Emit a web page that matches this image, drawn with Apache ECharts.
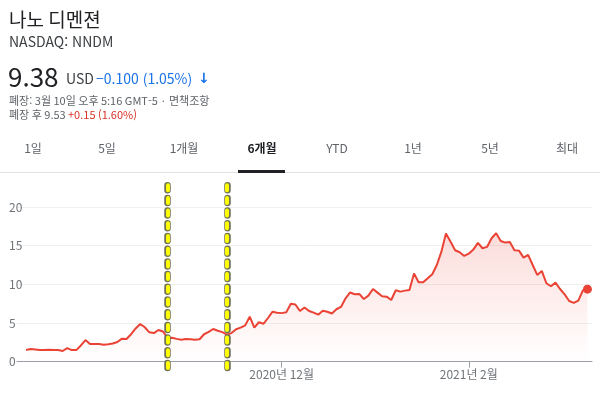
<!DOCTYPE html>
<html lang="ko">
<head>
    <meta charset="UTF-8">
    <title>나노 디멘젼</title>
    <script src="https://cdn.jsdelivr.net/npm/echarts@6/dist/echarts.min.js"></script>
    <style>
        html, body { margin: 0; padding: 0; background: #fff; }
    </style>
</head>
<body>
    <div id="main" style="width: 600px; height: 397px;"></div>
    <script>
        // 6개월 종가
        const prices = [
            1.5, 1.64, 1.58, 1.5, 1.52, 1.55, 1.52, 1.5, 1.38, 1.75,
            1.5, 1.5, 2.1, 2.8, 2.3, 2.3, 2.3, 2.2, 2.25, 2.35,
            2.55, 2.98, 2.94, 3.55, 4.3, 4.88, 4.45, 3.8, 3.7, 4.1,
            3.9, 3.05, 3.1, 2.95, 2.85, 2.92, 2.9, 2.85, 2.9, 3.55,
            3.85, 4.23, 4.0, 3.82, 3.5, 3.7, 4.2, 4.4, 4.7, 5.82,
            4.4, 5.1, 4.9, 5.65, 6.47, 6.34, 6.28, 6.38, 7.5, 7.4,
            6.56, 7.0, 6.55, 6.34, 6.08, 6.58, 6.45, 6.23, 6.78, 7.08,
            8.2, 8.95, 8.72, 8.76, 8.11, 8.54, 9.4, 8.93, 8.46, 8.41,
            7.98, 9.24, 9.06, 9.19, 9.28, 11.4, 10.27, 10.27, 10.8, 11.3,
            12.5, 14.23, 16.56, 15.52, 14.41, 14.15, 13.67, 13.97, 14.49, 15.36,
            14.67, 14.84, 15.96, 16.61, 15.61, 15.4, 15.48, 14.41, 14.36, 13.45,
            13.8, 12.5, 11.22, 11.73, 10.14, 9.75, 10.22, 9.4, 8.7, 7.85,
            7.6, 7.9, 9.2, 9.38
        ];
        // x축 눈금 (prices 인덱스 기준)
        const tickLabels = ['2020년 12월', '2021년 2월'];
        const tickIndex = [56, 97];
        // 노란 점선 위치 (prices 인덱스 기준)
        const markIndex = [31, 44];
        const yTicks = [0, 5, 10, 15, 20];
        const tabs = ['1일', '5일', '1개월', '6개월', 'YTD', '1년', '5년', '최대'];
        const selectedTab = '6개월';

        const FONT = '"Noto Sans CJK KR", "Noto Sans", sans-serif';
        const padLeft = 2, padRight = 1;

        // 앞뒤 여백용 빈 카테고리
        const categories = [];
        const seriesData = [];
        for (let i = 0; i < padLeft + prices.length + padRight; i++) {
            categories.push(String(i));
            const k = i - padLeft;
            seriesData.push(k >= 0 && k < prices.length ? prices[k] : '-');
        }
        const lastIdx = padLeft + prices.length - 1;
        const isTick = (idx) => tickIndex.indexOf(idx - padLeft) >= 0;

        // 회색 테두리 + 노란 점선 (두 번 그림)
        const dashType = [5, 7.7];
        const markLines = [];
        markIndex.forEach((m) => {
            markLines.push({ xAxis: m + padLeft, lineStyle: { color: '#6f7257', width: 6.5, type: dashType, cap: 'round' } });
        });
        markIndex.forEach((m) => {
            markLines.push({ xAxis: m + padLeft, lineStyle: { color: '#ffff00', width: 4, type: dashType, cap: 'round' } });
        });

        const tabX = [33, 107, 184, 262, 337, 413, 490, 567];
        const graphic = [
            { type: 'text', style: { x: 9, y: 20, text: '나노 디멘젼', font: '19px ' + FONT, fill: '#202124', verticalAlign: 'middle' } },
            { type: 'text', style: { x: 9, y: 42, text: 'NASDAQ: NNDM', font: '14px ' + FONT, fill: '#3c4043', verticalAlign: 'middle' } },
            { type: 'text', style: { x: 8, y: 77, text: '9.38', font: '26px ' + FONT, fill: '#202124', verticalAlign: 'middle' } },
            { type: 'text', style: { x: 66, y: 79, text: 'USD', font: '14px ' + FONT, fill: '#3c4043', verticalAlign: 'middle' } },
            { type: 'text', style: { x: 96, y: 79, text: '−0.100 (1.05%)', font: '14px ' + FONT, fill: '#1a73e8', verticalAlign: 'middle' } },
            { type: 'text', style: { x: 198, y: 79, text: '↓', font: 'bold 14px "DejaVu Sans"', fill: '#1a73e8', verticalAlign: 'middle' } },
            { type: 'text', style: { x: 9, y: 101, text: '폐장: 3월 10일 오후 5:16 GMT-5 · 면책조항', font: '11px ' + FONT, fill: '#5f6368', verticalAlign: 'middle' } },
            { type: 'text', style: { x: 9, y: 115, text: '폐장 후 9.53', font: '11px ' + FONT, fill: '#5f6368', verticalAlign: 'middle' } },
            { type: 'text', style: { x: 68, y: 115, text: '+0.15 (1.60%)', font: '11px ' + FONT, fill: '#d93025', verticalAlign: 'middle' } },
            { type: 'rect', shape: { x: 0, y: 172, width: 600, height: 1 }, style: { fill: '#e3e3e3' } },
            { type: 'rect', shape: { x: 238, y: 170, width: 47, height: 3 }, style: { fill: '#202124' } }
        ];
        tabs.forEach((t, i) => {
            const sel = t === selectedTab;
            graphic.push({
                type: 'text',
                style: {
                    x: tabX[i], y: 148, text: t,
                    font: (sel ? 'bold ' : '') + '12px ' + FONT,
                    fill: sel ? '#202124' : '#5f6368',
                    align: 'center', verticalAlign: 'middle'
                }
            });
        });

        var myChart = echarts.init(document.getElementById('main'));
        let option = {
            animation: false,
            graphic: graphic,
            grid: [
                { left: 17, right: 8, top: 207, bottom: 35.3 },
                // 점선이 그리드 위아래로 조금 더 나가도록 하는 보조 그리드
                { left: 17, right: 8, top: 184, bottom: 29 }
            ],
            xAxis: [
                {
                    type: 'category',
                    data: categories,
                    boundaryGap: false,
                    axisLine: { lineStyle: { color: '#9aa0a6', width: 1 } },
                    axisTick: {
                        interval: (idx) => isTick(idx),
                        length: 6,
                        lineStyle: { color: '#9aa0a6' }
                    },
                    axisLabel: {
                        interval: (idx) => isTick(idx),
                        formatter: (v, idx) => {
                            const k = tickIndex.indexOf(idx - padLeft);
                            return k >= 0 ? tickLabels[k] : '';
                        },
                        color: '#70757a',
                        fontSize: 12,
                        fontFamily: FONT,
                        margin: 7
                    },
                    splitLine: { show: false }
                },
                {
                    type: 'category',
                    gridIndex: 1,
                    data: categories,
                    boundaryGap: false,
                    show: false
                }
            ],
            yAxis: [
                {
                    type: 'value',
                    min: yTicks[0],
                    max: yTicks[yTicks.length - 1],
                    interval: 5,
                    axisLine: { show: false },
                    axisTick: { show: false },
                    axisLabel: {
                        color: '#70757a',
                        fontSize: 12,
                        fontFamily: FONT,
                        align: 'left',
                        margin: 8
                    },
                    splitLine: { lineStyle: { color: '#efefef' } }
                },
                {
                    type: 'value',
                    gridIndex: 1,
                    min: 0,
                    max: 20,
                    show: false
                }
            ],
            series: [
                {
                    type: 'line',
                    data: seriesData,
                    symbol: (value, params) => params.dataIndex === lastIdx ? 'circle' : 'none',
                    symbolSize: 9,
                    showAllSymbol: true,
                    lineStyle: { color: '#ea4335', width: 2 },
                    itemStyle: { color: '#ea4335' },
                    areaStyle: {
                        color: new echarts.graphic.LinearGradient(0, 0, 0, 1, [
                            { offset: 0, color: 'rgba(234,67,53,0.26)' },
                            { offset: 1, color: 'rgba(234,67,53,0.0)' }
                        ])
                    }
                },
                {
                    type: 'line',
                    xAxisIndex: 1,
                    yAxisIndex: 1,
                    data: [],
                    silent: true,
                    markLine: {
                        silent: true,
                        symbol: 'none',
                        label: { show: false },
                        data: markLines
                    }
                }
            ]
        };
        myChart.setOption(option);
    </script>
</body>
</html>
